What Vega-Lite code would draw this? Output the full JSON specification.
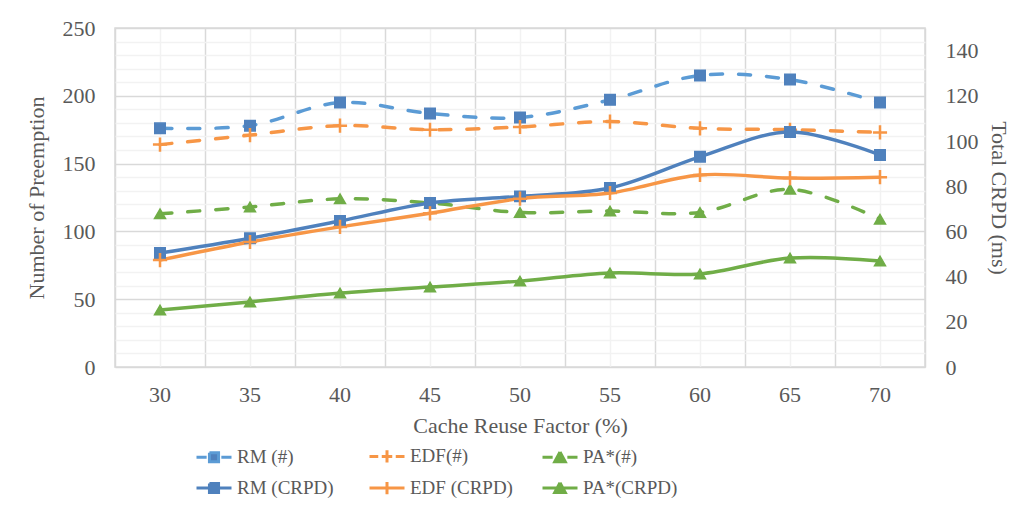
{
  "$schema": "https://vega.github.io/schema/vega-lite/v6.json",
  "width": 810,
  "height": 339,
  "autosize": {"type": "none"},
  "padding": {"left": 115, "top": 28, "right": 97, "bottom": 141},
  "background": "white",
  "config": {
    "view": {"stroke": "#D9D9D9", "strokeWidth": 1.5},
    "font": "Liberation Serif",
    "axis": {"labelFont": "Liberation Serif", "titleFont": "Liberation Serif", "labelFontSize": 22, "titleFontSize": 22, "labelColor": "#595959", "titleColor": "#595959", "titleFontWeight": "normal", "ticks": false, "domain": false}
  },
  "data": {
    "values": [
      {"x": "30", "s": "RM (#)", "a": "RM", "m": "#", "v": 176},
      {"x": "35", "s": "RM (#)", "a": "RM", "m": "#", "v": 178},
      {"x": "40", "s": "RM (#)", "a": "RM", "m": "#", "v": 195},
      {"x": "45", "s": "RM (#)", "a": "RM", "m": "#", "v": 187},
      {"x": "50", "s": "RM (#)", "a": "RM", "m": "#", "v": 184},
      {"x": "55", "s": "RM (#)", "a": "RM", "m": "#", "v": 197},
      {"x": "60", "s": "RM (#)", "a": "RM", "m": "#", "v": 215},
      {"x": "65", "s": "RM (#)", "a": "RM", "m": "#", "v": 212},
      {"x": "70", "s": "RM (#)", "a": "RM", "m": "#", "v": 195},
      {"x": "30", "s": "EDF(#)", "a": "EDF", "m": "#", "v": 164},
      {"x": "35", "s": "EDF(#)", "a": "EDF", "m": "#", "v": 171},
      {"x": "40", "s": "EDF(#)", "a": "EDF", "m": "#", "v": 178},
      {"x": "45", "s": "EDF(#)", "a": "EDF", "m": "#", "v": 175},
      {"x": "50", "s": "EDF(#)", "a": "EDF", "m": "#", "v": 177},
      {"x": "55", "s": "EDF(#)", "a": "EDF", "m": "#", "v": 181},
      {"x": "60", "s": "EDF(#)", "a": "EDF", "m": "#", "v": 176},
      {"x": "65", "s": "EDF(#)", "a": "EDF", "m": "#", "v": 175},
      {"x": "70", "s": "EDF(#)", "a": "EDF", "m": "#", "v": 173},
      {"x": "30", "s": "PA*(#)", "a": "PA", "m": "#", "v": 113},
      {"x": "35", "s": "PA*(#)", "a": "PA", "m": "#", "v": 118},
      {"x": "40", "s": "PA*(#)", "a": "PA", "m": "#", "v": 124},
      {"x": "45", "s": "PA*(#)", "a": "PA", "m": "#", "v": 121},
      {"x": "50", "s": "PA*(#)", "a": "PA", "m": "#", "v": 114},
      {"x": "55", "s": "PA*(#)", "a": "PA", "m": "#", "v": 115},
      {"x": "60", "s": "PA*(#)", "a": "PA", "m": "#", "v": 114},
      {"x": "65", "s": "PA*(#)", "a": "PA", "m": "#", "v": 131},
      {"x": "70", "s": "PA*(#)", "a": "PA", "m": "#", "v": 109},
      {"x": "30", "s": "RM (CRPD)", "a": "RM", "m": "CRPD", "v": 50.4},
      {"x": "35", "s": "RM (CRPD)", "a": "RM", "m": "CRPD", "v": 57},
      {"x": "40", "s": "RM (CRPD)", "a": "RM", "m": "CRPD", "v": 64.6},
      {"x": "45", "s": "RM (CRPD)", "a": "RM", "m": "CRPD", "v": 72.6},
      {"x": "50", "s": "RM (CRPD)", "a": "RM", "m": "CRPD", "v": 75.5},
      {"x": "55", "s": "RM (CRPD)", "a": "RM", "m": "CRPD", "v": 79.2},
      {"x": "60", "s": "RM (CRPD)", "a": "RM", "m": "CRPD", "v": 93},
      {"x": "65", "s": "RM (CRPD)", "a": "RM", "m": "CRPD", "v": 104},
      {"x": "70", "s": "RM (CRPD)", "a": "RM", "m": "CRPD", "v": 93.8},
      {"x": "30", "s": "EDF (CRPD)", "a": "EDF", "m": "CRPD", "v": 47.3},
      {"x": "35", "s": "EDF (CRPD)", "a": "EDF", "m": "CRPD", "v": 55.3},
      {"x": "40", "s": "EDF (CRPD)", "a": "EDF", "m": "CRPD", "v": 62},
      {"x": "45", "s": "EDF (CRPD)", "a": "EDF", "m": "CRPD", "v": 68},
      {"x": "50", "s": "EDF (CRPD)", "a": "EDF", "m": "CRPD", "v": 74.5},
      {"x": "55", "s": "EDF (CRPD)", "a": "EDF", "m": "CRPD", "v": 77},
      {"x": "60", "s": "EDF (CRPD)", "a": "EDF", "m": "CRPD", "v": 85},
      {"x": "65", "s": "EDF (CRPD)", "a": "EDF", "m": "CRPD", "v": 83.6},
      {"x": "70", "s": "EDF (CRPD)", "a": "EDF", "m": "CRPD", "v": 84},
      {"x": "30", "s": "PA*(CRPD)", "a": "PA", "m": "CRPD", "v": 25.2},
      {"x": "35", "s": "PA*(CRPD)", "a": "PA", "m": "CRPD", "v": 28.8},
      {"x": "40", "s": "PA*(CRPD)", "a": "PA", "m": "CRPD", "v": 32.7},
      {"x": "45", "s": "PA*(CRPD)", "a": "PA", "m": "CRPD", "v": 35.4},
      {"x": "50", "s": "PA*(CRPD)", "a": "PA", "m": "CRPD", "v": 38},
      {"x": "55", "s": "PA*(CRPD)", "a": "PA", "m": "CRPD", "v": 41.6},
      {"x": "60", "s": "PA*(CRPD)", "a": "PA", "m": "CRPD", "v": 41.2},
      {"x": "65", "s": "PA*(CRPD)", "a": "PA", "m": "CRPD", "v": 48.2},
      {"x": "70", "s": "PA*(CRPD)", "a": "PA", "m": "CRPD", "v": 46.9}
    ]
  },
  "layer": [
    {
      "transform": [{"filter": "datum.m == '#'"}],
      "encoding": {
        "x": {"field": "x", "type": "ordinal", "scale": {"paddingInner": 0, "paddingOuter": 0}, "axis": {"title": "Cache Reuse Factor (%)", "labelAngle": 0, "grid": true, "gridColor": "#F2F2F2", "gridWidth": 1.5, "labelPadding": 17, "titlePadding": 10}},
        "y": {"field": "v", "type": "quantitative", "scale": {"domain": [0, 250], "nice": false}, "axis": {"orient": "left", "title": "Number of Preemption", "values": [0,10,20,30,40,50,60,70,80,90,100,110,120,130,140,150,160,170,180,190,200,210,220,230,240,250], "labelExpr": "datum.value % 50 === 0 ? datum.label : ''", "grid": true, "gridWidth": 1.5, "gridColor": {"condition": {"test": "datum.value % 50 === 0", "value": "#D9D9D9"}, "value": "#F2F2F2"}, "labelPadding": 20, "titlePadding": 14}}
      },
      "layer": [
        {
          "mark": {"type": "line", "interpolate": "catmull-rom", "strokeWidth": 3.5, "strokeDash": [12, 16], "strokeCap": "round"},
          "encoding": {
            "color": {"field": "s", "type": "nominal", "scale": {"domain": ["RM (#)", "EDF(#)", "PA*(#)", "RM (CRPD)", "EDF (CRPD)", "PA*(CRPD)"], "range": ["#5B9BD5", "#F79646", "#70AD47", "#4F81BD", "#F79646", "#70AD47"]},
              "legend": {"title": null, "orient": "none", "legendX": 80, "legendY": 409, "columns": 3, "direction": "horizontal", "gridAlign": "all", "columnPadding": 23, "rowPadding": 0, "symbolSize": 1225, "symbolStrokeWidth": 3, "symbolDash": [200, 0], "labelFont": "Liberation Serif", "labelFontSize": 19, "labelColor": "#595959", "labelOffset": 4, "labelLimit": 200,
                "encode": {"symbols": {"update": {
                  "shape": {"signal": "datum.value === 'RM (#)' ? 'M-1,0H-0.42M0.42,0H1M-0.26,-0.26H0.26V0.26H-0.26Z' : datum.value === 'EDF(#)' ? 'M-1,0H-0.5M-0.3,0H0.3M0.5,0H1M0,-0.35V0.35' : datum.value === 'PA*(#)' ? 'M-1,0H-0.42M0.42,0H1M0,-0.3L0.3,0.25H-0.3Z' : datum.value === 'RM (CRPD)' ? 'M-1,0H1M-0.26,-0.26H0.26V0.26H-0.26Z' : datum.value === 'EDF (CRPD)' ? 'M-1,0H1M0,-0.35V0.35' : 'M-1,0H1M0,-0.3L0.3,0.25H-0.3Z'"},
                  "fill": {"signal": "datum.value === 'RM (#)' || datum.value === 'RM (CRPD)' ? '#4F81BD' : (datum.value === 'PA*(#)' || datum.value === 'PA*(CRPD)') ? '#70AD47' : '#F79646'"},
                  "stroke": {"signal": "datum.value === 'RM (#)' ? '#5B9BD5' : datum.value === 'RM (CRPD)' ? '#4F81BD' : (datum.value === 'PA*(#)' || datum.value === 'PA*(CRPD)') ? '#70AD47' : '#F79646'"},
                  "strokeWidth": {"value": 3},
                  "opacity": {"value": 1}
                }}}
              }
            }
          }
        },
        {
          "transform": [{"filter": "datum.a == 'RM'"}],
          "mark": {"type": "point", "shape": "square", "filled": true, "size": 110, "strokeWidth": 1.5, "fill": "#4F81BD", "stroke": "#4F81BD", "opacity": 1}
        },
        {
          "transform": [{"filter": "datum.a == 'EDF'"}],
          "mark": {"type": "point", "shape": "M-1,0H1M0,-1V1", "filled": false, "size": 200, "strokeWidth": 2.5, "stroke": "#F79646", "opacity": 1}
        },
        {
          "transform": [{"filter": "datum.a == 'PA'"}],
          "mark": {"type": "point", "shape": "triangle-up", "filled": true, "size": 120, "strokeWidth": 1.5, "fill": "#70AD47", "stroke": "#70AD47", "opacity": 1}
        }
      ]
    },
    {
      "transform": [{"filter": "datum.m == 'CRPD'"}],
      "encoding": {
        "x": {"field": "x", "type": "ordinal", "scale": {"paddingInner": 0, "paddingOuter": 0}, "axis": {"orient": "top", "title": null, "labels": false, "grid": true, "tickBand": "extent", "gridColor": "#D9D9D9", "gridWidth": 1.5}},
        "y": {"field": "v", "type": "quantitative", "scale": {"domain": [0, 150], "nice": false}, "axis": {"orient": "right", "title": "Total CRPD (ms)", "values": [0,20,40,60,80,100,120,140], "grid": false, "labelPadding": 20, "titlePadding": 8}}
      },
      "layer": [
        {
          "mark": {"type": "line", "interpolate": "catmull-rom", "strokeWidth": 3.5},
          "encoding": {"color": {"field": "s", "type": "nominal"}}
        },
        {
          "transform": [{"filter": "datum.a == 'RM'"}],
          "mark": {"type": "point", "shape": "square", "filled": true, "size": 110, "strokeWidth": 1.5, "fill": "#4F81BD", "stroke": "#4F81BD", "opacity": 1}
        },
        {
          "transform": [{"filter": "datum.a == 'EDF'"}],
          "mark": {"type": "point", "shape": "M-1,0H1M0,-1V1", "filled": false, "size": 200, "strokeWidth": 2.5, "stroke": "#F79646", "opacity": 1}
        },
        {
          "transform": [{"filter": "datum.a == 'PA'"}],
          "mark": {"type": "point", "shape": "triangle-up", "filled": true, "size": 120, "strokeWidth": 1.5, "fill": "#70AD47", "stroke": "#70AD47", "opacity": 1}
        }
      ]
    }
  ],
  "resolve": {"scale": {"y": "independent"}, "axis": {"x": "independent"}}
}
